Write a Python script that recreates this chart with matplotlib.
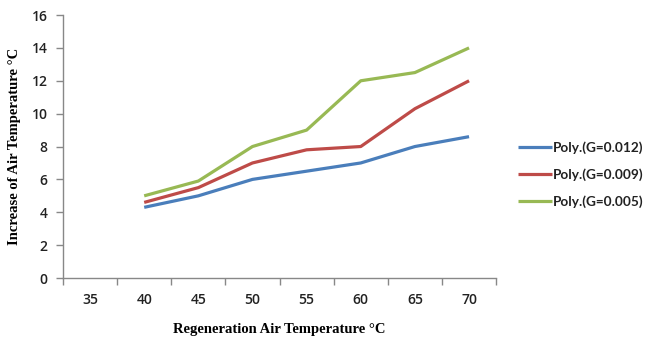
import matplotlib
matplotlib.use("Agg")
import matplotlib.pyplot as plt
from matplotlib.ticker import FixedLocator, NullFormatter

categories = ["35", "40", "45", "50", "55", "60", "65", "70"]
line_categories = ["40", "45", "50", "55", "60", "65", "70"]
g012 = [4.3, 5.0, 6.0, 6.5, 7.0, 8.0, 8.6]
g009 = [4.6, 5.5, 7.0, 7.8, 8.0, 10.3, 12.0]
g005 = [5.0, 5.9, 8.0, 9.0, 12.0, 12.5, 14.0]
series_labels = ["Poly.(G=0.012)", "Poly.(G=0.009)", "Poly.(G=0.005)"]
series_colors = ["#4a7ebb", "#be4b48", "#98b954"]
y_ticks = [0, 2, 4, 6, 8, 10, 12, 14, 16]

fig = plt.figure(figsize=(6.46, 3.38), dpi=100)
ax = fig.add_axes([0.0975, 0.1775, 0.6705, 0.778])

xpos = [categories.index(c) for c in line_categories]
for vals, lab, col in zip([g012, g009, g005], series_labels, series_colors):
    ax.plot(xpos, vals, color=col, lw=2.3, label=lab, solid_capstyle="butt")

ax.set_xlim(-0.5, len(categories) - 0.5)
ax.set_ylim(0, 16)
ax.set_yticks(y_ticks)
ax.set_xticks(range(len(categories)))
ax.set_xticklabels(categories)
ax.xaxis.set_minor_locator(FixedLocator([i - 0.5 for i in range(len(categories) + 1)]))
ax.xaxis.set_minor_formatter(NullFormatter())
ax.tick_params(axis="x", which="major", length=0, pad=11)
ax.tick_params(axis="x", which="minor", length=5, color="#888888", width=1)
ax.tick_params(axis="y", length=5, color="#888888", width=1, pad=6)

for lab in ax.get_xticklabels() + ax.get_yticklabels():
    lab.set_fontfamily("Open Sans")
    lab.set_fontweight("semibold")
    lab.set_fontsize(10)
    lab.set_color("#222222")

for s in ["top", "right"]:
    ax.spines[s].set_visible(False)
for s in ["left", "bottom"]:
    ax.spines[s].set_color("#888888")
    ax.spines[s].set_linewidth(1)

ax.set_xlabel("Regeneration Air Temperature °C", fontfamily="Liberation Serif",
              fontweight="bold", fontsize=10.5, labelpad=11)
ax.set_ylabel("Increase of Air Temperature °C", fontfamily="Liberation Serif",
              fontweight="bold", fontsize=10.5, labelpad=8)

leg = fig.legend(loc="center left", bbox_to_anchor=(0.802, 0.484), frameon=False,
                 prop={"family": "Lato", "weight": "bold", "size": 9.8},
                 handlelength=2.5, handletextpad=0.05, labelspacing=1.05,
                 borderpad=0, borderaxespad=0)
for t in leg.get_texts():
    t.set_color("#222222")

fig.savefig("out.png", dpi=100)
